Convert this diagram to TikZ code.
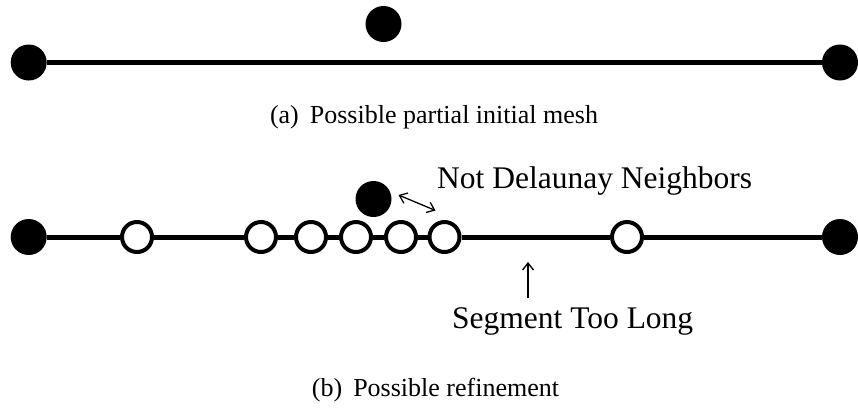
\documentclass[tikz,border=0pt]{standalone}
\usepackage{fontspec}
\setmainfont{Liberation Serif}
\usetikzlibrary{arrows.meta}

\tikzset{
  vertex/.style={circle, fill=black, inner sep=0pt, minimum size=36pt},
  steiner/.style={circle, draw=black, line width=4pt, fill=white, inner sep=0pt, minimum size=30pt},
  segment/.style={line width=5pt},
  pointer/.style={line width=1.3pt, {Straight Barb[length=7pt,width=11pt]}-{Straight Barb[length=7pt,width=11pt]}},
  uppointer/.style={line width=1.3pt, -{Straight Barb[length=7pt,width=11pt]}},
  label/.style={inner sep=0pt, anchor=base west, font=\fontsize{31.5}{36}\selectfont},
  caption/.style={inner sep=0pt, anchor=base, font=\fontsize{26}{30}\selectfont}
}

\begin{document}
\begin{tikzpicture}[x=1pt,y=-1pt]
  \useasboundingbox (0,0) rectangle (858,408);

  % (a) initial mesh: one input segment and a nearby input vertex
  \node[vertex] (aL) at (28.7,62.5) {};
  \node[vertex] (aR) at (840,62.5) {};
  \node[vertex] (aP) at (383.5,24) {};
  \draw[segment] (aL) -- (aR);
  \node[caption] (capA) at (434,123) {(a)\hspace{11pt}Possible partial initial mesh};

  % (b) refinement: the segment split by inserted vertices
  \node[vertex] (bL) at (28.7,237) {};
  \node[vertex] (bR) at (840,237) {};
  \node[steiner] (s1) at (137,237) {};
  \node[steiner] (s2) at (261,237) {};
  \node[steiner] (s3) at (311,237) {};
  \node[steiner] (s4) at (356,237) {};
  \node[steiner] (s5) at (401,237) {};
  \node[steiner] (s6) at (444.5,237) {};
  \node[steiner] (s7) at (627,237) {};
  \draw[segment] (bL) -- (s1) -- (s2) -- (s3) -- (s4) -- (s5) -- (s6) -- (s7) -- (bR);
  \node[vertex] (bP) at (373.5,199) {};

  % annotations
  \coordinate (nA) at (398.5,195);
  \coordinate (nB) at (435.5,210.5);
  \draw[pointer] (nA) -- (nB);
  \node[label] (ndn) at (437,188) {Not Delaunay Neighbors};

  \coordinate (tTail) at (528,298);
  \coordinate (tHead) at (528,262);
  \draw[uppointer] (tTail) -- (tHead);
  \node[label] (stl) at (452,328) {Segment Too Long};

  \node[caption] (capB) at (435.5,396) {(b)\hspace{11pt}Possible refinement};
\end{tikzpicture}
\end{document}
